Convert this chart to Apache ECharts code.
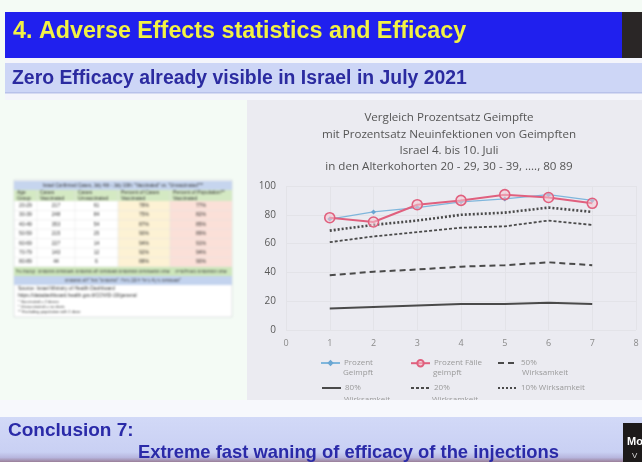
<!DOCTYPE html>
<html><head><meta charset="utf-8">
<script src="https://cdn.jsdelivr.net/npm/echarts@6/dist/echarts.min.js"></script>
<style>
html,body{margin:0;padding:0;background:#f4fbf5;overflow:hidden}
#main,#table{position:absolute;left:0;top:0;width:642px;height:462px}
#table{pointer-events:none;filter:blur(0.9px)}
</style></head><body>
<div id="main"></div><div id="table"></div>
<script>
// Age cohorts 20-29 ... 80-89 plotted as x = 1..7
const xValues = [1, 2, 3, 4, 5, 6, 7];
const ageGroups = ['20-29', '30-39', '40-49', '50-59', '60-69', '70-79', '80-89'];
const xTicks = ['0', '1', '2', '3', '4', '5', '6', '7', '8'];
const yTicks = ['0', '20', '40', '60', '80', '100'];

// Percent of population vaccinated
const prozentGeimpft = [77, 82, 85, 89, 91, 94, 90];
// Percent of new cases that were vaccinated
const prozentFaelle = [78, 75, 87, 90, 94, 92, 88];
// Expected share of vaccinated cases at given efficacy levels
const wirk50 = [38, 40.5, 42, 44, 45, 47, 45];
const wirk80 = [15, 16, 17, 18, 18, 19, 18];
const wirk20 = [61, 65, 68, 71, 72, 76, 73];
const wirk10 = [69, 73, 76, 80, 81.5, 85, 82];

// Case counts for the table
const casesVacc = [217, 248, 353, 215, 227, 143, 44];
const casesUnvacc = [61, 84, 54, 25, 14, 12, 6];

const pts = arr => xValues.map((x, i) => [x, arr[i]]);
const FONT = 'Liberation Sans, Arial, sans-serif';
const CFONT = 'Open Sans, sans-serif';

const names = {
  g: 'Prozent Geimpft', f: 'Prozent Fälle geimpft', w50: '50% Wirksamkeit',
  w80: '80% Wirksamkeit', w20: '20% Wirksamkeit', w10: '10% Wirksamkeit'
};
const firstLine = {
  [names.g]: 'Prozent', [names.f]: 'Prozent Fälle', [names.w50]: '50%',
  [names.w80]: '80%', [names.w20]: '20%', [names.w10]: '10% Wirksamkeit'
};
const dark = '#4a4a4a';

function legendAt(name, left, top, plain) {
  const l = {
    data: [name], left, top, padding: 0, itemWidth: 19, itemHeight: 8, itemGap: 0,
    textStyle: { color: '#9a9a9a', fontSize: 8, fontFamily: CFONT, padding: [0, 0, 0, -1] },
    formatter: n => firstLine[n]
  };
  // plain line entries: hide the marker, keep only the stroke
  if (plain) l.itemStyle = { color: 'rgba(0,0,0,0)', borderColor: 'rgba(0,0,0,0)', borderWidth: 0 };
  return l;
}

function text(x, y, t, size, color, weight, align, family, z) {
  return { type: 'text', x, y, z: z || 1, style: {
    text: t, fill: color, fontSize: size, fontWeight: weight || 'normal',
    fontFamily: family || FONT, align: align || 'left', verticalAlign: 'middle' } };
}
function box(x, y, w, h, fill, z) {
  return { type: 'rect', z: z || 0, shape: { x, y, width: w, height: h }, style: { fill } };
}

const titleLines = ['Vergleich Prozentsatz Geimpfte', 'mit Prozentsatz Neuinfektionen von Geimpften',
  'Israel 4. bis 10. Juli', 'in den Alterkohorten 20 - 29, 30 - 39, ...., 80 89'];

const slide = [
  // header
  box(5, 12, 618, 46, '#2020ee'),
  box(622, 12, 20, 46, '#2a2626'),
  text(13, 32, '4. Adverse Effects statistics and Efficacy', 23.3, '#f2f244', 'bold'),
  // sub header
  box(5, 58, 637, 42, '#f4f5fb'),
  box(5, 63, 637, 30, '#cdd6f6'),
  box(5, 92, 637, 1.5, '#b8c2ea'),
  text(12, 79, 'Zero Efficacy already visible in Israel in July 2021', 19.4, '#2b2ba0', 'bold'),
  // chart panel
  box(247, 100, 395, 300, '#ebebf1'),
  ...titleLines.map((t, i) => text(449, 118 + i * 16.3, t, 11.6, '#555555', 'normal', 'center', CFONT)),
  // second lines of the legend entries
  text(343, 373, 'Geimpft', 8, '#9a9a9a', 'normal', 'left', CFONT),
  text(433, 373, 'geimpft', 8, '#9a9a9a', 'normal', 'left', CFONT),
  text(522, 373, 'Wirksamkeit', 8, '#9a9a9a', 'normal', 'left', CFONT),
  text(344, 400, 'Wirksamkeit', 8, '#9a9a9a', 'normal', 'left', CFONT),
  text(432, 400, 'Wirksamkeit', 8, '#9a9a9a', 'normal', 'left', CFONT),
  // band below the chart panel
  box(0, 400, 642, 17, '#f7f8fc', 100),
  // conclusion bar
  { type: 'rect', z: 100, shape: { x: 0, y: 417, width: 642, height: 45 }, style: {
    fill: new echarts.graphic.LinearGradient(0, 0, 0, 1, [
      { offset: 0, color: '#d2d9f7' }, { offset: 0.78, color: '#c9d0f3' },
      { offset: 0.9, color: '#b7b6de' }, { offset: 1, color: '#9a7f98' }]) } },
  text(8, 431, 'Conclusion 7:', 19, '#2a2aa8', 'bold', 'left', FONT, 101),
  text(138, 453, 'Extreme fast waning of efficacy of the injections', 18.4, '#2a2aa8', 'bold', 'left', FONT, 101),
  box(623, 423, 19, 39, '#1d1a1a', 101),
  text(627, 442, 'Mo', 11, '#ffffff', 'bold', 'left', FONT, 102),
  text(632, 456, 'V', 8, '#dddddd', 'normal', 'left', FONT, 102)
];

const lineSeries = (name, data, type, width) => ({
  name, type: 'line', data: pts(data), symbol: 'none', z: 3,
  lineStyle: { color: dark, width, type }, itemStyle: { color: dark }
});

const chart = echarts.init(document.getElementById('main'), null, { renderer: 'canvas' });
chart.setOption({
  backgroundColor: '#f4fbf5',
  animation: false,
  graphic: slide,
  grid: { left: 286, top: 186, width: 350, height: 144, show: true, backgroundColor: '#fbfbfc',
          borderWidth: 0, outerBoundsMode: 'none', containLabel: false },
  xAxis: {
    type: 'value', min: 0, max: 8, interval: 1,
    axisLine: { show: false }, axisTick: { show: false },
    axisLabel: { color: '#8a8a8a', fontSize: 9, fontFamily: CFONT, margin: 9,
                 formatter: v => xTicks[v] },
    splitLine: { show: true, lineStyle: { color: '#e3e3e8', width: 1 } }
  },
  yAxis: {
    type: 'value', min: 0, max: 100, interval: 20,
    axisLine: { show: false }, axisTick: { show: false },
    axisLabel: { color: '#5a5a5a', fontSize: 10, fontFamily: CFONT, margin: 10,
                 formatter: v => yTicks[v / 20] },
    splitLine: { show: true, lineStyle: { color: '#e3e3e8', width: 1 } }
  },
  legend: [
    legendAt(names.g, 320, 359), legendAt(names.f, 410, 359), legendAt(names.w50, 497, 359, true),
    legendAt(names.w80, 321, 384, true), legendAt(names.w20, 410, 384, true), legendAt(names.w10, 497, 384, true)
  ],
  series: [
    lineSeries(names.w80, wirk80, 'solid', 2),
    lineSeries(names.w50, wirk50, [6, 4], 2),
    lineSeries(names.w20, wirk20, [3, 2], 1.8),
    lineSeries(names.w10, wirk10, [2, 2], 2.6),
    { name: names.g, type: 'line', data: pts(prozentGeimpft), symbol: 'diamond', symbolSize: 5, z: 4,
      lineStyle: { color: '#7fb6dc', width: 1.2 }, itemStyle: { color: '#6aa6d2' } },
    { name: names.f, type: 'line', data: pts(prozentFaelle), symbol: 'circle', symbolSize: 10, z: 5,
      lineStyle: { color: '#e0607e', width: 2 },
      itemStyle: { color: 'rgba(246,200,210,0.55)', borderColor: '#e0607e', borderWidth: 1.6 } }
  ]
});

// ---- data table (left) ----
const tb = [];
const cx = [14, 37, 75, 118, 170, 232];
const rowTop = 201, rowH = 9.4;
const T = (x, y, t, align, size, color) => tb.push({ type: 'text', x, y, style: {
  text: t, fill: color || '#333', fontSize: size || 5, fontFamily: FONT,
  align: align || 'center', verticalAlign: 'middle' } });
const R = (x, y, w, h, fill, stroke) => tb.push({ type: 'rect', shape: { x, y, width: w, height: h },
  style: { fill, stroke: stroke || null, lineWidth: 0.6 } });

R(14, 180, 218, 137, '#ffffff', '#c9ccd2');
R(14, 181, 218, 9, '#c6d5ee');
T(123, 185.5, 'Israel Confirmed Cases, July 4th - July 10th: "Vaccinated" vs. "Unvaccinated"**', 'center', 4.6, '#333');
R(14, 190, 218, 11, '#d4e9c3');
const heads = [['Age', 'Group'], ['Cases', 'Vaccinated'], ['Cases', 'Unvaccinated'],
  ['Percent of Cases', 'Vaccinated'], ['Percent of Population**', 'Vaccinated']];
heads.forEach((h, i) => { T(cx[i] + 3, 193, h[0], 'left'); T(cx[i] + 3, 198.5, h[1], 'left'); });
R(118, 201, 52, 66, '#fdf2d4');
R(170, 201, 62, 66, '#fbe0d8');
ageGroups.forEach((a, i) => {
  const y = rowTop + i * rowH + rowH / 2;
  T((cx[0] + cx[1]) / 2, y, a);
  T((cx[1] + cx[2]) / 2, y, String(casesVacc[i]));
  T((cx[2] + cx[3]) / 2, y, String(casesUnvacc[i]));
  T((cx[3] + cx[4]) / 2, y, prozentFaelle[i] + '%');
  T((cx[4] + cx[5]) / 2, y, prozentGeimpft[i] + '%');
  tb.push({ type: 'line', shape: { x1: 14, y1: rowTop + (i + 1) * rowH, x2: 232, y2: rowTop + (i + 1) * rowH },
    style: { stroke: '#e2e2e2', lineWidth: 0.5 } });
});
for (let k = 1; k < 5; k++) tb.push({ type: 'line', shape: { x1: cx[k], y1: 190, x2: cx[k], y2: 276 },
  style: { stroke: '#e0e0e0', lineWidth: 0.5 } });
R(14, 267, 218, 9, '#cde6bb');
['קבוצת גיל', 'מאומתים מחוסנים', 'מאומתים לא מחוסנים', 'אחוז המאומתים המחוסנים', 'אחוז המחוסנים באוכלוסייה']
  .forEach((h, i) => T((cx[i] + cx[i + 1]) / 2, 271.5, h, 'center', 4.6));
R(14, 276, 218, 9, '#c3d3ee');
T(123, 280.5, 'מאומתים בין 4 ביולי ל-10 ביולי: "מחוסנים" מול "לא מחוסנים"', 'center', 4.6);
T(18, 289, 'Source: Israel Ministry of Health Dashboard', 'left', 5);
T(18, 296, 'https://datadashboard.health.gov.il/COVID-19/general', 'left', 5);
T(18, 302, '* Vaccinated = 2 doses', 'left', 4);
T(18, 307, '* Unvaccinated = no shots', 'left', 4);
T(18, 312, '** Excluding population with 1 dose', 'left', 4);

const table = echarts.init(document.getElementById('table'), null, { renderer: 'canvas' });
table.setOption({ animation: false, graphic: tb });
</script>
</body></html>
